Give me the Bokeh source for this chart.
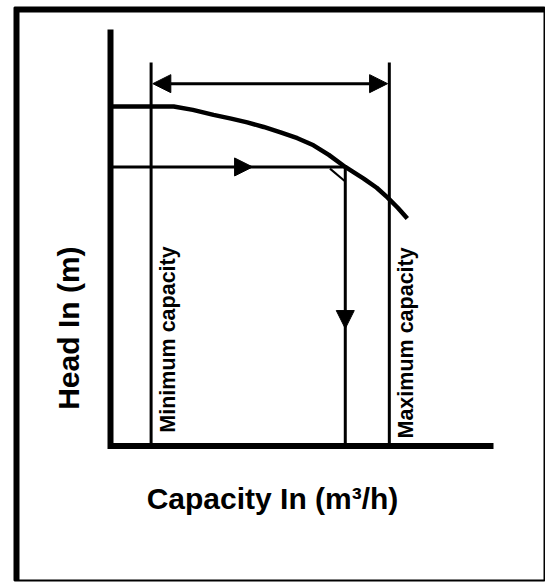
import math
from bokeh.plotting import figure
from bokeh.models import Range1d, Arrow, NormalHead, Span
from bokeh.core.properties import value
from bokeh.embed import file_html
from bokeh.resources import INLINE

# ---- schematic data (capacity Q and head H in relative units, axes 0..100) ----
curve_capacity = [0, 10.0, 16.5, 21.5, 26.9, 31.5, 35.7, 40.0, 44.4, 48.8, 53.0, 57.0, 61.3, 66.1, 69.5, 72.3, 75.0, 77.5]
curve_head = [81.5, 81.5, 81.5, 80.7, 79.5, 78.6, 77.7, 76.6, 75.3, 73.9, 72.2, 69.9, 67.0, 64.2, 62.0, 59.7, 57.2, 54.6]

q_min = 10.6          # minimum capacity
q_max = 72.8          # maximum capacity
q_op = 61.3           # operating point capacity
h_op = 67.0           # operating point head
h_limits_top = 92.1   # top of min / max capacity lines
h_range_arrow = 87.0  # height of the double arrow
q_arrow_right = 37.1  # tip of arrow on horizontal line
h_arrow_down = 28.2   # tip of arrow on vertical line

x_label = "Capacity In (m\u00b3/h)"
y_label = "Head In (m)"
min_label = "Minimum capacity"
max_label = "Maximum capacity"

# ---- layout (pixels) ----
W, H = 545, 582
ml, mr, mt, mb = 14, 1, 7, 2
fw, fh = W - ml - mr, H - mt - mb
# origin of the axes inside the frame (px from frame left / bottom)
ox, oy = 96.0, 134.5
sx, sy = 3.83, 4.165  # px per unit

x_range = Range1d(-ox / sx, (fw - ox) / sx)
y_range = Range1d(-oy / sy, (fh - oy) / sy)

p = figure(width=W, height=H, x_range=x_range, y_range=y_range,
           output_backend="svg", toolbar_location=None,
           x_axis_location=None, y_axis_location=None,
           min_border_left=ml, min_border_right=mr,
           min_border_top=mt, min_border_bottom=mb)
p.grid.visible = False
p.background_fill_color = "white"
p.border_fill_color = "white"
p.outline_line_color = "black"
p.outline_line_width = 2

# thick left and top border edges
p.add_layout(Span(location=x_range.start + 2.5 / sx, dimension="height",
                  line_color="black", line_width=5))
p.add_layout(Span(location=y_range.end - 2.5 / sy, dimension="width",
                  line_color="black", line_width=5))

# axes
p.line([0, 0, 100], [100, 0, 0], line_color="black", line_width=6, line_join="miter")

# minimum / maximum capacity lines
p.segment(x0=[q_min, q_max], y0=[0, 0], x1=[q_min, q_max], y1=[h_limits_top, h_limits_top],
          line_color="black", line_width=3)

# double arrow between them
p.add_layout(Arrow(x_start=q_min + 0.45, y_start=h_range_arrow, x_end=q_max - 0.45, y_end=h_range_arrow,
                   line_color="black", line_width=3,
                   start=NormalHead(size=18, fill_color="black", line_color="black", line_width=1),
                   end=NormalHead(size=18, fill_color="black", line_color="black", line_width=1)))

# pump curve
p.line(curve_capacity, curve_head, line_color="black", line_width=4.5, line_join="round")

# operating lines
p.line([0, q_op, q_op], [h_op, h_op, 0], line_color="black", line_width=3, line_join="miter")
p.segment(x0=[q_op - 4.0], y0=[h_op - 0.4], x1=[q_op], y1=[h_op - 3.5], line_color="black", line_width=2)

p.add_layout(Arrow(x_start=q_arrow_right - 5, y_start=h_op, x_end=q_arrow_right, y_end=h_op,
                   line_alpha=0, line_width=1,
                   end=NormalHead(size=18, fill_color="black", line_color="black", line_width=1)))
p.add_layout(Arrow(x_start=q_op, y_start=h_arrow_down + 5, x_end=q_op, y_end=h_arrow_down,
                   line_alpha=0, line_width=1,
                   end=NormalHead(size=18, fill_color="black", line_color="black", line_width=1)))

font = value("Liberation Sans")

# axis labels
p.text(x=[42.3], y=[-12.6], text=[x_label], text_font=font, text_font_size="30px",
       text_font_style="bold", text_align="center", text_baseline="alphabetic", text_color="black")
p.text(x=[-11.0], y=[28.3], text=[y_label], angle=math.pi / 2, text_font=font, text_font_size="30px",
       text_font_style="bold", text_align="center", text_baseline="middle", text_color="black")

# capacity line labels
p.text(x=[q_min + 4.3, q_max + 4.3], y=[3.2, 1.8], text=[min_label, max_label], angle=math.pi / 2,
       text_font=font, text_font_size="21.5px", text_font_style="bold",
       text_align="left", text_baseline="middle", text_color="black")

open("out.html", "w").write(file_html(p, INLINE))
